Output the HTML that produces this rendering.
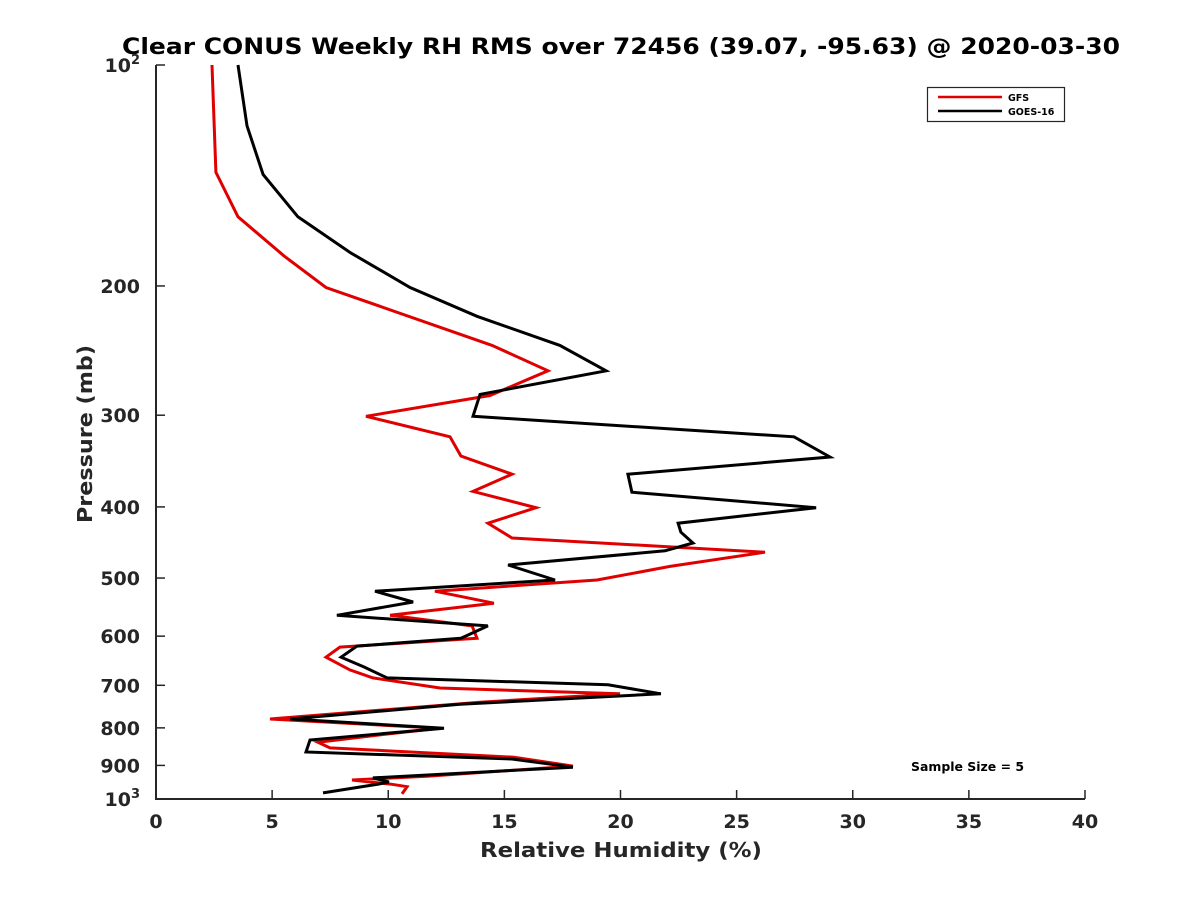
<!DOCTYPE html>
<html><head><meta charset="utf-8"><style>
body{margin:0;background:#fff;}
svg text{font-family:"DejaVu Sans","Liberation Sans",sans-serif;font-weight:bold;fill:#262626;}
</style></head><body>
<svg id="chart" width="1200" height="900" xmlns="http://www.w3.org/2000/svg">
<rect width="1200" height="900" fill="#fff"/>
<text x="122" y="54" font-size="22" textLength="998" lengthAdjust="spacingAndGlyphs" style="fill:#000">Clear CONUS Weekly RH RMS over 72456 (39.07, -95.63) @ 2020-03-30</text>
<g id="axes"></g>
<g id="series"></g>
<text x="480" y="857" font-size="20" textLength="282" lengthAdjust="spacingAndGlyphs">Relative Humidity (%)</text>
<text transform="translate(92,523) rotate(-90)" font-size="20" textLength="178" lengthAdjust="spacingAndGlyphs">Pressure (mb)</text>
<g>
<rect x="927.5" y="87.5" width="137" height="34" fill="#fff" stroke="#262626" stroke-width="1.2"/>
<line x1="938" y1="97" x2="1002" y2="97" stroke="#e00000" stroke-width="2.5"/>
<text x="1008" y="101" font-size="9.5" style="fill:#000">GFS</text>
<line x1="938" y1="111" x2="1002" y2="111" stroke="#000" stroke-width="2.5"/>
<text x="1008" y="115" font-size="9.5" style="fill:#000">GOES-16</text>
</g>
<text x="911" y="771" font-size="12" textLength="113" lengthAdjust="spacingAndGlyphs" style="fill:#000">Sample Size = 5</text>
</svg>
<script>
const xTicks=[0,5,10,15,20,25,30,35,40];
const yTicks=[100,200,300,400,500,600,700,800,900,1000];
const gfsP=[100,140,161,182,201,241,261,282,301,321,341,361,381,401,421,441,461,482,503,521,541,562,581,604,621,641,667,684,706,719,738,778,801,816,837,852,877,902,931,942,955,962,984];
const gfsRH=[2.41,2.58,3.53,5.51,7.32,14.47,16.88,14.38,9.04,12.66,13.13,15.33,13.65,16.36,14.29,15.33,26.22,22.13,18.99,12.01,14.55,10.08,13.61,13.82,7.92,7.32,8.35,9.34,12.23,19.98,13.95,4.91,12.23,9.86,6.98,7.49,15.41,17.95,11.67,8.44,10.16,10.81,10.59];
const goesP=[100,121,141,161,180,201,220,241,261,281,301,321,342,361,382,401,421,433,448,459,480,503,521,539,562,581,604,619,641,661,684,699,719,743,778,801,831,863,882,905,936,948,954,981];
const goesRH=[3.53,3.92,4.61,6.11,8.35,10.94,13.82,17.39,19.38,13.95,13.65,27.47,29.02,20.32,20.49,28.42,22.48,22.6,23.12,21.92,15.16,17.18,9.43,11.07,7.79,14.29,13.13,8.65,7.97,8.96,9.95,19.46,21.74,13.09,5.77,12.4,6.63,6.46,15.33,17.95,9.34,10.03,9.6,7.19];
const X0=156,X1=1085,Y0=65,Y1=799;
function xs(v){return X0+(v-0)/(40-0)*(X1-X0);}
function ys(p){return Y0+(Math.log10(p)-2)*(Y1-Y0);}
const NS="http://www.w3.org/2000/svg";
const axes=document.getElementById('axes');
function mk(t,a,parent){const e=document.createElementNS(NS,t);for(const k in a)e.setAttribute(k,a[k]);parent.appendChild(e);return e;}
let l=mk('line',{x1:X0,y1:Y0,x2:X0,y2:Y1,stroke:'#262626','stroke-width':2},axes);


l=mk('line',{x1:X0-1,y1:Y1,x2:X1,y2:Y1,stroke:'#262626','stroke-width':2},axes);


xTicks.forEach(v=>{const x=xs(v);
 const t=mk('line',{x1:x,y1:Y1,x2:x,y2:Y1-9,stroke:'#262626','stroke-width':1.5},axes);
 
 
 const tx=mk('text',{x:x,y:Y1+29,'font-size':19,'text-anchor':'middle'},axes);tx.textContent=v;
 
 
});
yTicks.forEach(p=>{const y=ys(p);
 const t=mk('line',{x1:X0,y1:y,x2:X0+9,y2:y,stroke:'#262626','stroke-width':1.5},axes);
 
 
 const tx=mk('text',{x:X0-16,y:y+7,'font-size':19,'text-anchor':'end'},axes);
 
 
 if(p===100||p===1000){tx.innerHTML='10<tspan dy="-8" font-size="13">'+(p===100?2:3)+'</tspan>';}
 else tx.textContent=p;
});
const ser=document.getElementById('series');
function draw(P,R,col,name){
 const pts=P.map((p,i)=>xs(R[i]).toFixed(1)+','+ys(p).toFixed(1)).join(' ');
 const pl=mk('polyline',{points:pts,fill:'none',stroke:col,'stroke-width':3,'stroke-linejoin':'miter'},ser);
 
 
}
draw(gfsP,gfsRH,'#e00000','gfs-line');
draw(goesP,goesRH,'#000000','goes16-line');
</script>
</body></html>
